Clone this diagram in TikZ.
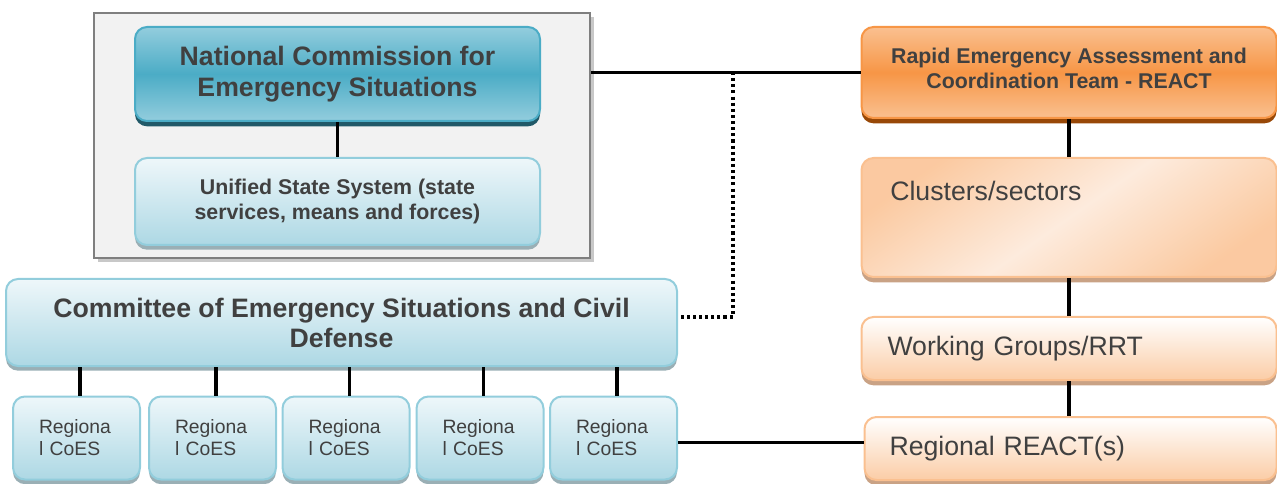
\documentclass[tikz,border=0pt]{standalone}
\usepackage{fontspec}
\setmainfont{Liberation Sans}
\usetikzlibrary{shadows}
\definecolor{txt}{HTML}{404040}
\definecolor{tealA}{HTML}{93CDDD}
\definecolor{tealB}{HTML}{4BACC6}
\definecolor{tealD}{HTML}{215968}
\definecolor{lblueA}{HTML}{EEF7FA}
\definecolor{lblueB}{HTML}{ADD8E4}
\definecolor{lblueE}{HTML}{92CDDC}
\definecolor{lblueS}{HTML}{9AAFB5}
\definecolor{orA}{HTML}{FAC090}
\definecolor{orB}{HTML}{F79646}
\definecolor{orD}{HTML}{984807}
\definecolor{peachA}{HTML}{FDEBDD}
\definecolor{peachE}{HTML}{FAC090}
\definecolor{peachS}{HTML}{C9A285}
\definecolor{grayF}{HTML}{F2F2F2}
\definecolor{grayE}{HTML}{7F7F7F}
\definecolor{grayS}{HTML}{C8C8C8}
\begin{document}
\begin{tikzpicture}[x=0.75pt,y=-0.75pt,
  every node/.style={text=txt, inner sep=0pt},
  graybox/.style={draw=grayE, fill=grayF, line width=1.5pt,
    general shadow={fill=grayS, shadow xshift=3pt, shadow yshift=-3pt}},
  roundbox/.style={rounded corners=9pt, line width=1.5pt},
  natbox/.style={roundbox, draw=tealB, top color=tealA, bottom color=tealA, middle color=tealB,
    general shadow={fill=tealD, shadow yshift=-4pt},
    font=\bfseries\fontsize{20}{23}\selectfont, align=center},
  unibox/.style={roundbox, draw=lblueE, top color=lblueA, bottom color=lblueB,
    general shadow={fill=lblueS, shadow yshift=-3.5pt},
    align=center},
  reactbox/.style={roundbox, draw=orB, top color=orA, bottom color=orA, middle color=orB,
    general shadow={fill=orD, shadow yshift=-4pt},
    font=\bfseries\fontsize{16}{18.75}\selectfont},
  peachbox/.style={roundbox, draw=peachE, top color=white, bottom color=orA!80,
    general shadow={fill=peachS, shadow yshift=-4pt},
    font=\fontsize{20}{23}\selectfont, align=left},
  regbox/.style={unibox, minimum width=95.25pt, minimum height=62.25pt,
    font=\fontsize{14.5}{16.5}\selectfont, align=left, text width=56.25pt},
  conn/.style={line width=2.6pt, black},
  dotconn/.style={line width=2.6pt, black, dash pattern=on 2.3pt off 2.3pt}
]
\useasboundingbox (0,0) rectangle (1277,484);

% left block
\node[graybox, minimum width=372pt, minimum height=183.75pt] (outer) at (342,135.5) {};
\node[natbox, minimum width=303.75pt, minimum height=70.5pt] (ncs) at (337.5,74)
  {National Commission for\\Emergency Situations};
\node[unibox, minimum width=303.75pt, minimum height=65.25pt,
  font=\bfseries\fontsize{16}{18.75}\selectfont] (uss) at (337.5,201.5)
  {Unified State System (state\\services, means and forces)};
\node[unibox, minimum width=503.25pt, minimum height=65.25pt,
  font=\bfseries\fontsize{20}{22.5}\selectfont] (cesd) at (341.5,322.5)
  {Committee of Emergency Situations and Civil\\Defense};

\node[regbox] (r1) at (76.5,438) {Regiona\\l CoES};
\node[regbox] (r2) at (212.5,438) {Regiona\\l CoES};
\node[regbox] (r3) at (346,438) {Regiona\\l CoES};
\node[regbox] (r4) at (480,438) {Regiona\\l CoES};
\node[regbox] (r5) at (613.5,438) {Regiona\\l CoES};

% right block
\node[reactbox, minimum width=311.25pt, minimum height=68.25pt] (react) at (1069,72.5)
  {\raisebox{-3.2pt}[0pt][0pt]{\begin{tabular}{@{}c@{}}Rapid Emergency Assessment and\\Coordination Team - REACT\end{tabular}}};
\node[peachbox, minimum width=311.25pt, minimum height=89.25pt,
  top color=orA!85, bottom color=orA!85, middle color=peachA, shading angle=35] (clus) at (1069,217.5) {};
\node[anchor=base west, font=\fontsize{20}{23}\selectfont] (clustext) at (890,201) {Clusters/sectors};
\node[peachbox, minimum width=311.25pt, minimum height=47.25pt, text width=272.25pt] (wg) at (1069,348.5)
  {Working Groups/RRT};
\node[peachbox, minimum width=309pt, minimum height=47.25pt, text width=271.5pt] (rreact) at (1070.5,448.5)
  {Regional REACT(s)};

% connectors
\coordinate (junc) at (733,72);
\draw[conn] (ncs.south) -- (uss.north);
\draw[conn] (outer.east |- react.west) -- (react.west);
\draw[dotconn] (junc) |- (cesd.east |- 0,317);
\foreach \r in {r1,r2,r3,r4,r5}{
  \draw[conn] ([xshift=2.5pt]\r.north) -- ([xshift=2.5pt]\r.north |- cesd.south);
}
\draw[conn] (react.south) -- (clus.north);
\draw[conn] (clus.south) -- (wg.north);
\draw[conn] (wg.south) -- (wg.south |- rreact.north);
\draw[conn] ([yshift=-3.5pt]r5.east) -- ([yshift=-3.5pt]r5.east -| rreact.west);
\end{tikzpicture}
\end{document}
